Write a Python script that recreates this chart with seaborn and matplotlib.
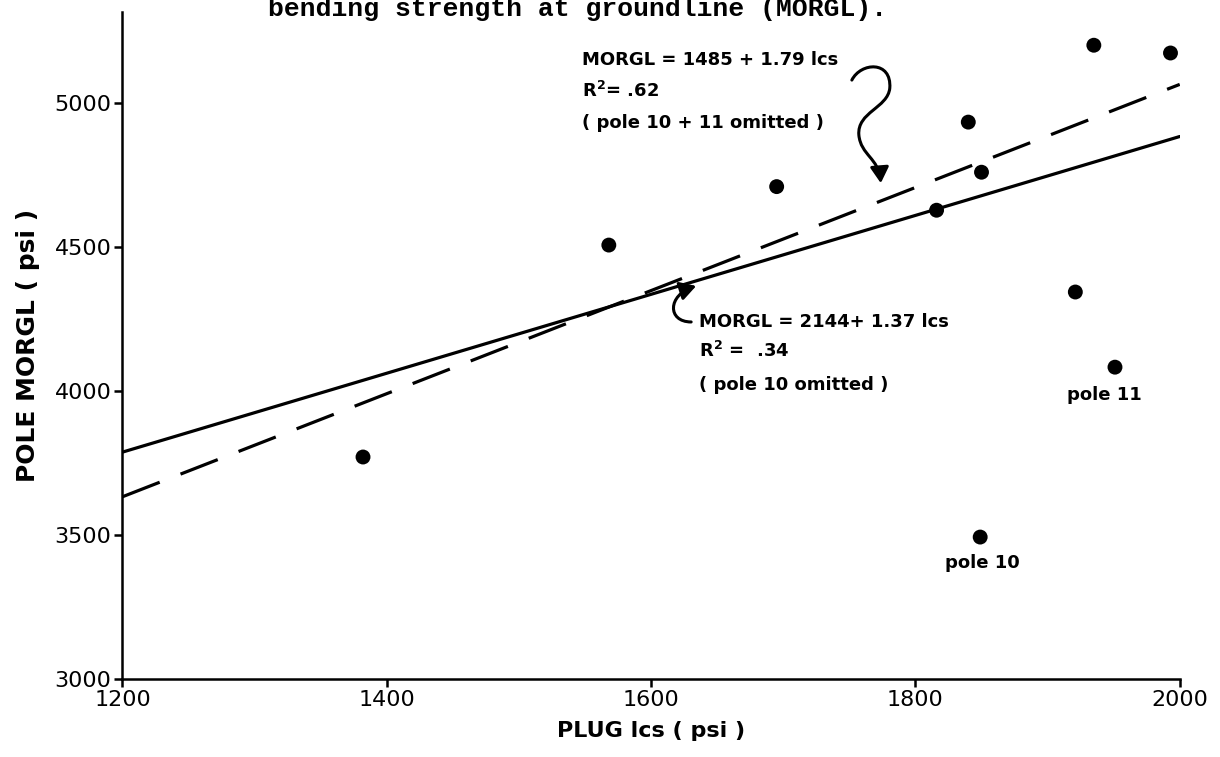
import matplotlib
matplotlib.use("Agg")
import matplotlib.pyplot as plt
import seaborn as sns
import pandas as pd
from matplotlib.path import Path
from matplotlib.patches import FancyArrowPatch

# ---------------- data ----------------
plug_lcs = [1382, 1568, 1695, 1816, 1840, 1850, 1921, 1935, 1951, 1993, 1849]
pole_morgl = [3771, 4507, 4710, 4628, 4934, 4760, 4344, 5201, 4083, 5174, 3493]

fit_names = ["pole 10 omitted", "pole 10 + 11 omitted"]
fit_intercepts = [2144, 1485]
fit_slopes = [1.37, 1.79]
fit_x_range = [1200, 2000]

x_ticks = [1200, 1400, 1600, 1800, 2000]
x_tick_labels = ["1200", "1400", "1600", "1800", "2000"]
y_ticks = [3000, 3500, 4000, 4500, 5000]
y_tick_labels = ["3000", "3500", "4000", "4500", "5000"]

# ---------------- style ----------------
sns.set_theme(style="ticks")
plt.rcParams['font.family'] = ['DejaVu Sans']
plt.rcParams['mathtext.default'] = 'regular'

fig = plt.figure(figsize=(12.2, 7.57), dpi=100)
ax = fig.add_axes([0.1004, 0.1030, 0.967 - 0.1004, 0.984 - 0.1030])

rows = []
for name, b0, b1 in zip(fit_names, fit_intercepts, fit_slopes):
    for xv in fit_x_range:
        rows.append({"lcs": xv, "morgl": b0 + b1 * xv, "fit": name})
lines_df = pd.DataFrame(rows)

sns.lineplot(data=lines_df, x="lcs", y="morgl", style="fit",
             dashes={fit_names[0]: "", fit_names[1]: (12.5, 7)},
             color="black", lw=2.3, legend=False, ax=ax)

pts_df = pd.DataFrame({"lcs": plug_lcs, "morgl": pole_morgl})
sns.scatterplot(data=pts_df, x="lcs", y="morgl", s=115, color="black",
                edgecolor="none", ax=ax, zorder=3)

ax.set_xlim(1200, 2000)
ax.set_ylim(3000, 5316)
ax.set_xticks(x_ticks)
ax.set_xticklabels(x_tick_labels)
ax.set_yticks(y_ticks)
ax.set_yticklabels(y_tick_labels)
ax.tick_params(direction="out", length=6, width=1.8, labelsize=16, pad=2,
               colors="black")
sns.despine(ax=ax)
for sp in ["left", "bottom"]:
    ax.spines[sp].set_linewidth(1.8)
    ax.spines[sp].set_color("black")

ax.set_xlabel("PLUG lcs ( psi )", fontsize=16, fontweight="bold", labelpad=8, color="black")
ax.set_ylabel("POLE MORGL ( psi )", fontsize=18, fontweight="bold", labelpad=10, color="black")

# ---------------- annotations ----------------
tk = dict(fontsize=13, fontweight="bold", color="black", va="baseline", ha="left")
ax.text(1548, 5132, "MORGL = 1485 + 1.79 lcs", **tk)
ax.text(1548, 5021, "R$^{2}$= .62", **tk)
ax.text(1548, 4913, "( pole 10 + 11 omitted )", **tk)

ax.text(1636, 4222, "MORGL = 2144+ 1.37 lcs", **tk)
ax.text(1636, 4118, "R$^{2}$ =  .34", **tk)
ax.text(1636, 4003, "( pole 10 omitted )", **tk)

ax.text(1943, 3969, "pole 11", fontsize=13, fontweight="bold", color="black",
        va="baseline", ha="center")
ax.text(1851, 3385, "pole 10", fontsize=13, fontweight="bold", color="black",
        va="baseline", ha="center")

# curly "?" arrow pointing to dashed line
verts1 = [(1751.9, 5080), (1758.7, 5142), (1782.1, 5149), (1780.6, 5052),
          (1779.1, 4983), (1755.7, 4969), (1757.2, 4889),
          (1758.7, 4819), (1772.3, 4809), (1773.8, 4722)]
codes1 = [Path.MOVETO] + [Path.CURVE4] * 9
arr1 = FancyArrowPatch(path=Path(verts1, codes1),
                       arrowstyle="-|>,head_length=0.6,head_width=0.35",
                       mutation_scale=16, lw=2.2, color="black")
ax.add_patch(arr1)

# C-shaped hook pointing to solid line
verts2 = [(1630.3, 4240), (1612.2, 4240), (1612.2, 4333), (1634.1, 4365)]
codes2 = [Path.MOVETO, Path.CURVE4, Path.CURVE4, Path.CURVE4]
arr2 = FancyArrowPatch(path=Path(verts2, codes2),
                       arrowstyle="-|>,head_length=0.6,head_width=0.35",
                       mutation_scale=16, lw=2.2, color="black")
ax.add_patch(arr2)

# caption fragment at the top (cut in the scan)
fig.text(0.2197, 1 - 16 / 757, "bending strength at groundline (MORGL).",
         fontsize=19, family="Liberation Mono", weight="bold",
         va="baseline", ha="left", color="black")

fig.savefig("out.png", dpi=100, facecolor="white")
